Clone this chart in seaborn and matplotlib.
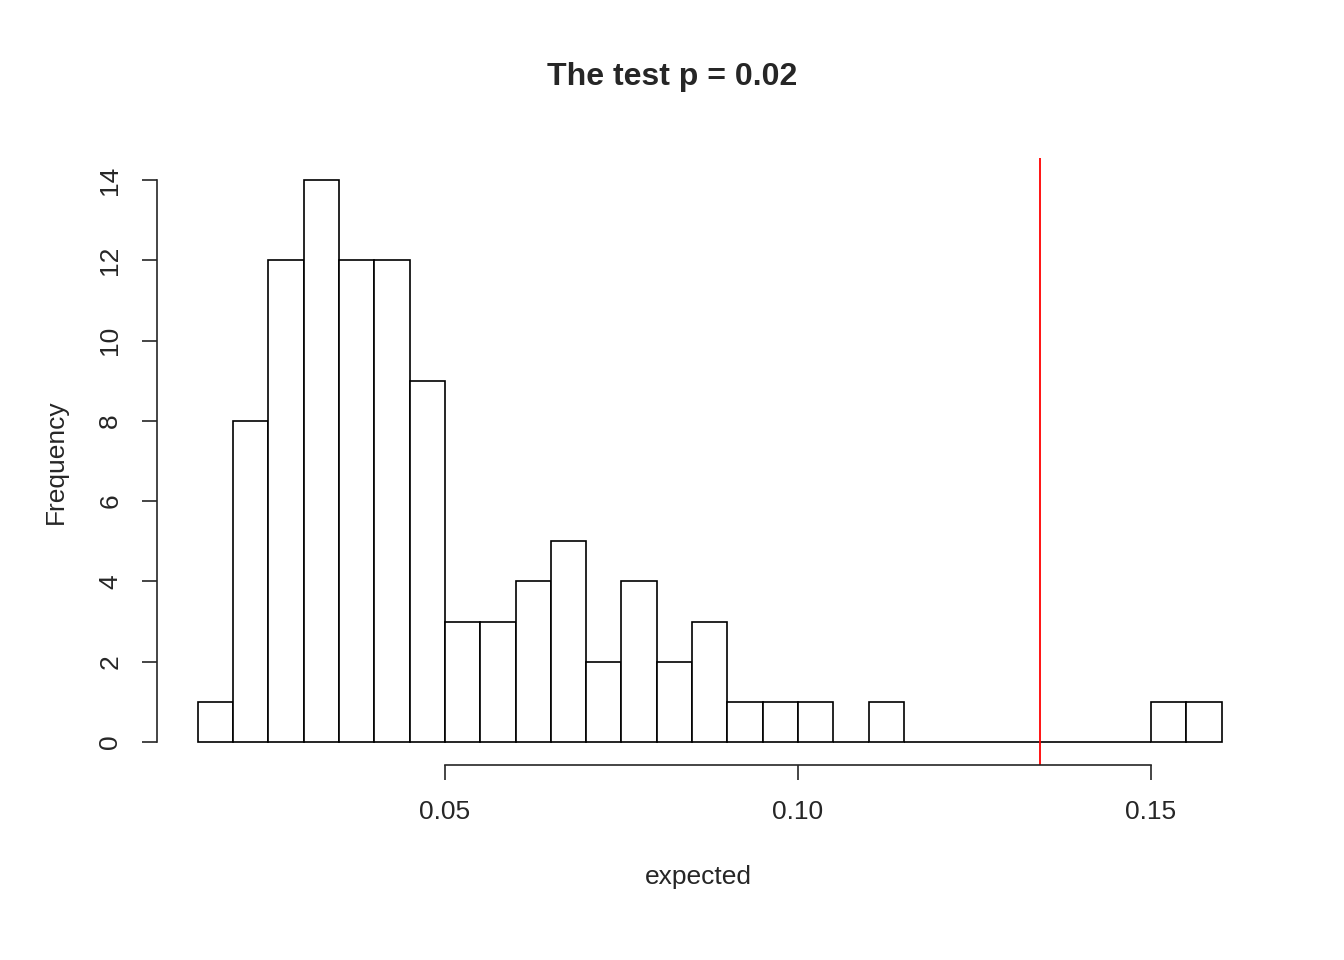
import numpy as np
import pandas as pd
import matplotlib
matplotlib.use("Agg")
import matplotlib.pyplot as plt
import seaborn as sns

# histogram counts (bin width 0.005, starting at 0.015)
bin_start = 0.015
bin_width = 0.005
counts = [1, 8, 12, 14, 12, 12, 9, 3, 3, 4, 5, 2, 4, 2, 3, 1, 1, 1, 0, 1,
          0, 0, 0, 0, 0, 0, 0, 1, 1]
observed = 0.1343

edges = bin_start + bin_width * np.arange(len(counts) + 1)
centers = (edges[:-1] + edges[1:]) / 2
df = pd.DataFrame({"expected": centers, "n": counts})

sns.set_style("white")
plt.rcParams["font.family"] = ["Liberation Sans", "DejaVu Sans"]

fig = plt.figure(figsize=(13.44, 9.6), dpi=100)
ax = fig.add_axes([157 / 1344, 195 / 960, (1240 - 157) / 1344, (765 - 158) / 960])

sns.histplot(data=df, x="expected", weights="n", bins=list(edges), ax=ax,
             color="white", edgecolor="black", linewidth=1.2, alpha=1)
ax.axvline(observed, color="red", linewidth=1.3)

ax.set_xlim(0.00922, 0.1626)
ax.set_ylim(-0.573, 14.55)
ax.set_xticks([0.05, 0.10, 0.15])
ax.set_xticklabels(["0.05", "0.10", "0.15"])
ax.set_yticks(range(0, 15, 2))
for s in ["top", "right"]:
    ax.spines[s].set_visible(False)
ax.spines["left"].set_bounds(0, 14)
ax.spines["bottom"].set_bounds(0.05, 0.15)
for s in ["left", "bottom"]:
    ax.spines[s].set_linewidth(1.2)
ax.tick_params(axis="both", length=11, width=1.2, labelsize=19, pad=14,
               left=True, bottom=True)
plt.setp(ax.get_yticklabels(), rotation=90, va="center")

ax.set_xlabel("expected", fontsize=19, labelpad=30)
ax.set_ylabel("Frequency", fontsize=19, labelpad=22)
fig.suptitle("The test p = 0.02", fontsize=23, fontweight="bold", y=0.935)

fig.savefig("out.png", dpi=100)
